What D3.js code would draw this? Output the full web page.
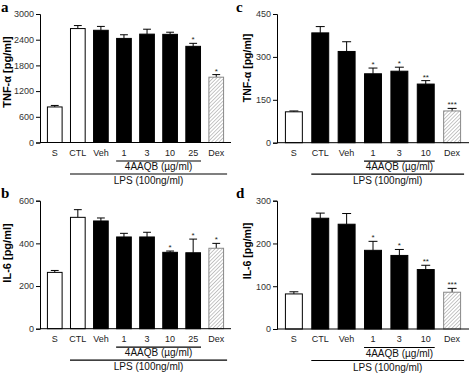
<!DOCTYPE html>
<html>
<head>
<meta charset="utf-8">
<script src="https://cdn.jsdelivr.net/npm/d3@7"></script>
<style>
  body { margin: 0; background: #fff; }
  svg { display: block; font-family: "Liberation Sans", Arial, sans-serif; }
</style>
</head>
<body>
<div id="chart"></div>
<script>
// groups on the x axis
const groupsAB = ["S", "CTL", "Veh", "1", "3", "10", "25", "Dex"];
const groupsCD = ["S", "CTL", "Veh", "1", "3", "10", "Dex"];

// bar style per group
const styleAB = ["open", "open", "solid", "solid", "solid", "solid", "solid", "hatch"];
const styleCD = ["open", "solid", "solid", "solid", "solid", "solid", "hatch"];

// panel a: TNF-alpha
const tnfA = [830, 2660, 2620, 2430, 2530, 2525, 2245, 1525];
const tnfAErr = [35, 70, 90, 85, 115, 50, 70, 60];
const tnfAStars = ["", "", "", "", "", "", "*", "*"];
const ticksA = [0, 600, 1200, 1800, 2400, 3000];

// panel b: IL-6
const il6B = [264, 522, 505, 430, 430, 358, 356, 377];
const il6BErr = [9, 36, 14, 17, 22, 6, 64, 23];
const il6BStars = ["", "", "", "", "", "*", "*", "*"];
const ticksB = [0, 200, 400, 600];

// panel c: TNF-alpha
const tnfC = [108, 384, 319, 241, 250, 205, 111];
const tnfCErr = [3, 22, 34, 20, 14, 12, 9];
const tnfCStars = ["", "", "", "*", "*", "**", "***"];
const ticksC = [0, 150, 300, 450];

// panel d: IL-6
const il6D = [82, 259, 245, 184, 172, 139, 86];
const il6DErr = [5, 12, 25, 21, 14, 10, 9];
const il6DStars = ["", "", "", "*", "*", "**", "***"];
const ticksD = [0, 100, 200, 300];

const svg = d3.select("#chart")
    .append("svg")
    .attr("width", 472)
    .attr("height", 376);

// hatch pattern for Dex
const defs = svg.append("defs");
const pattern = defs.append("pattern")
    .attr("id", "hatch")
    .attr("patternUnits", "userSpaceOnUse")
    .attr("width", 2.6)
    .attr("height", 2.6)
    .attr("patternTransform", "rotate(45)");
pattern.append("rect").attr("width", 2.6).attr("height", 2.6).attr("fill", "#fff");
pattern.append("line")
    .attr("x1", 0).attr("y1", 0).attr("x2", 0).attr("y2", 2.6)
    .attr("stroke", "#999").attr("stroke-width", 1.1);

function drawPanel(cfg) {
    const g = svg.append("g");

    const x = d3.scaleBand()
        .domain(cfg.groups)
        .range([cfg.left, cfg.right])
        .paddingInner(0.32)
        .paddingOuter(0.3);

    const y = d3.scaleLinear()
        .domain([0, cfg.ticks[cfg.ticks.length - 1]])
        .range([cfg.bottom, cfg.top]);

    const rows = cfg.groups.map((k, i) => ({
        key: k, value: cfg.values[i], err: cfg.errors[i],
        star: cfg.stars[i], style: cfg.styles[i]
    }));

    // y axis
    const yAxis = g.append("g")
        .attr("transform", `translate(${cfg.left},0)`)
        .call(d3.axisLeft(y).tickValues(cfg.ticks).tickSize(4).tickPadding(2).tickFormat(d3.format("d")));
    yAxis.select(".domain").attr("stroke", "#000");
    yAxis.selectAll(".tick line").attr("stroke", "#000");
    yAxis.selectAll("text").style("font-size", "9px").attr("fill", "#333");

    // error bars (upper only)
    const cap = x.bandwidth() * 0.5;
    rows.forEach(d => {
        const cx = x(d.key) + x.bandwidth() / 2;
        g.append("line")
            .attr("x1", cx).attr("x2", cx)
            .attr("y1", y(d.value)).attr("y2", y(d.value + d.err))
            .attr("stroke", "#000").attr("stroke-width", 1);
        g.append("line")
            .attr("x1", cx - cap / 2).attr("x2", cx + cap / 2)
            .attr("y1", y(d.value + d.err)).attr("y2", y(d.value + d.err))
            .attr("stroke", "#000").attr("stroke-width", 1);
    });

    // bars
    g.selectAll("rect.bar")
        .data(rows)
        .join("rect")
        .attr("class", "bar")
        .attr("x", d => x(d.key) + 0.5)
        .attr("y", d => y(d.value))
        .attr("width", x.bandwidth() - 1)
        .attr("height", d => y(0) - y(d.value))
        .attr("fill", d => d.style === "solid" ? "#000" : d.style === "hatch" ? "url(#hatch)" : "#fff")
        .attr("stroke", d => d.style === "hatch" ? "#888" : "#000")
        .attr("stroke-width", 1);

    // significance stars
    g.selectAll("text.star")
        .data(rows.filter(d => d.star))
        .join("text")
        .attr("class", "star")
        .attr("x", d => x(d.key) + x.bandwidth() / 2)
        .attr("y", d => y(d.value + d.err) - 1)
        .attr("text-anchor", "middle")
        .style("font-size", "8px")
        .attr("fill", "#222")
        .text(d => d.star);

    // x axis line
    g.append("line")
        .attr("x1", cfg.left).attr("x2", cfg.right)
        .attr("y1", cfg.bottom).attr("y2", cfg.bottom)
        .attr("stroke", "#000");

    // group labels
    g.selectAll("text.grp")
        .data(cfg.groups)
        .join("text")
        .attr("class", "grp")
        .attr("x", d => x(d) + x.bandwidth() / 2)
        .attr("y", cfg.bottom + 13)
        .attr("text-anchor", "middle")
        .style("font-size", "9px")
        .attr("fill", "#222")
        .text(d => d);

    // 4AAQB bracket
    const doses = cfg.groups.slice(3, cfg.groups.length - 1);
    const dx1 = x(doses[0]);
    const dx2 = x(doses[doses.length - 1]) + x.bandwidth();
    g.append("line")
        .attr("x1", dx1).attr("x2", dx2)
        .attr("y1", cfg.bottom + 18.5).attr("y2", cfg.bottom + 18.5)
        .attr("stroke", "#000").attr("stroke-width", 1.2);
    g.append("text")
        .attr("x", (dx1 + dx2) / 2)
        .attr("y", cfg.bottom + 27.5)
        .attr("text-anchor", "middle")
        .style("font-size", "10px")
        .attr("fill", "#111")
        .text("4AAQB (\u00b5g/ml)");

    // LPS bracket
    const lx1 = x("CTL");
    const lx2 = x("Dex") + x.bandwidth() + 3;
    g.append("line")
        .attr("x1", lx1).attr("x2", lx2)
        .attr("y1", cfg.bottom + 31.5).attr("y2", cfg.bottom + 31.5)
        .attr("stroke", "#000").attr("stroke-width", 1.2);
    g.append("text")
        .attr("x", (lx1 + lx2) / 2)
        .attr("y", cfg.bottom + 41.5)
        .attr("text-anchor", "middle")
        .style("font-size", "10px")
        .attr("fill", "#111")
        .text("LPS (100ng/ml)");

    // y title
    g.append("text")
        .attr("transform", `translate(${cfg.titleX},${cfg.titleY}) rotate(-90)`)
        .attr("text-anchor", "middle")
        .style("font-size", cfg.titleSize)
        .style("font-weight", "bold")
        .text(cfg.title);

    // panel letter
    g.append("text")
        .attr("x", cfg.letterX)
        .attr("y", cfg.letterY)
        .style("font-family", "'Liberation Serif', 'Times New Roman', serif")
        .style("font-size", "15px")
        .style("font-weight", "bold")
        .text(cfg.letter);
}

drawPanel({
    letter: "a", letterX: 1, letterY: 12,
    groups: groupsAB, styles: styleAB, values: tnfA, errors: tnfAErr, stars: tnfAStars, ticks: ticksA,
    left: 40, right: 231, top: 14, bottom: 142.5,
    title: "TNF-\u03b1 [pg/ml]", titleSize: "11px", titleX: 11, titleY: 72
});
drawPanel({
    letter: "b", letterX: 1, letterY: 198,
    groups: groupsAB, styles: styleAB, values: il6B, errors: il6BErr, stars: il6BStars, ticks: ticksB,
    left: 40, right: 231, top: 200.7, bottom: 328.7,
    title: "IL-6 [pg/ml]", titleSize: "11px", titleX: 11, titleY: 253
});
drawPanel({
    letter: "c", letterX: 236, letterY: 12,
    groups: groupsCD, styles: styleCD, values: tnfC, errors: tnfCErr, stars: tnfCStars, ticks: ticksC,
    left: 277, right: 469, top: 14, bottom: 142.7,
    title: "TNF-\u03b1 [pg/ml]", titleSize: "10.5px", titleX: 251, titleY: 68
});
drawPanel({
    letter: "d", letterX: 236, letterY: 198,
    groups: groupsCD, styles: styleCD, values: il6D, errors: il6DErr, stars: il6DStars, ticks: ticksD,
    left: 277, right: 469, top: 200.7, bottom: 329,
    title: "IL-6 [pg/ml]", titleSize: "10.5px", titleX: 251, titleY: 251
});
</script>
</body>
</html>
